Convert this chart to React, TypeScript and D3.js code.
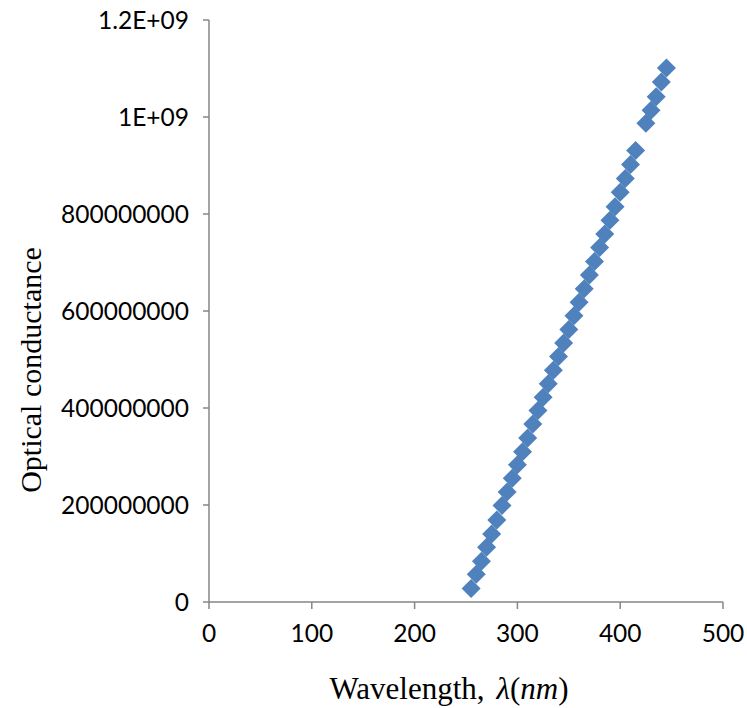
import React from "react";
import * as d3 from "d3";

const wavelengths = [255, 260, 265, 270, 275, 280, 285, 290, 295, 300, 305, 310, 315, 320, 325, 330, 335, 340, 345, 350, 355, 360, 365, 370, 375, 380, 385, 390, 395, 400, 405, 410, 415, 425, 430, 435, 440, 445];
const conductance = [28e6, 57e6, 84e6, 113e6, 140e6, 169e6, 199e6, 227e6, 255e6, 283e6, 310e6, 338e6, 367e6, 395e6, 422e6, 450e6, 478e6, 506e6, 534e6, 562e6, 590e6, 618e6, 646e6, 674e6, 702e6, 731e6, 759e6, 787e6, 815e6, 845e6, 873e6, 902e6, 931e6, 987e6, 1014e6, 1042e6, 1072e6, 1101e6];
const xTicks = [0, 100, 200, 300, 400, 500];
const yTicks = [0, 200000000, 400000000, 600000000, 800000000, 1000000000, 1200000000];
const yTickLabels = ["0", "200000000", "400000000", "600000000", "800000000", "1E+09", "1.2E+09"];

const W = 747;
const H = 708;
const left = 209;
const right = 723;
const top = 20;
const bottom = 602;
const axisColor = "#868686";
const markerColor = "#4F81BD";
const tickFont = "Lato, 'Open Sans', sans-serif";
const titleFont = "'Liberation Serif', 'Times New Roman', serif";

export default function App() {
  const x = d3.scaleLinear().domain([0, 500]).range([left, right]);
  const y = d3.scaleLinear().domain([0, 1.2e9]).range([bottom, top]);
  const diamond = d3.symbol().type(d3.symbolDiamond2 ?? d3.symbolDiamond).size(230)();
  const data = wavelengths.map((w, i) => ({ w, c: conductance[i] }));
  return (
    <svg width={W} height={H} style={{ position: "absolute", left: 0, top: 0, background: "#fff" }}>
      <rect x={0} y={0} width={W} height={H} fill="#fff" />
      <line x1={left} x2={left} y1={top} y2={bottom} stroke={axisColor} strokeWidth={1.5} />
      <line x1={left} x2={right} y1={bottom} y2={bottom} stroke={axisColor} strokeWidth={1.5} />
      {yTicks.map((t, i) => (
        <g key={"y" + t}>
          <line x1={left - 6} x2={left} y1={y(t)} y2={y(t)} stroke={axisColor} strokeWidth={1.5} />
          <text x={189} y={y(t)} dy="0.35em" textAnchor="end" fontFamily={tickFont} fontSize={24.5} fill="#000">
            {yTickLabels[i]}
          </text>
        </g>
      ))}
      {xTicks.map((t) => (
        <g key={"x" + t}>
          <line x1={x(t)} x2={x(t)} y1={bottom} y2={bottom + 7} stroke={axisColor} strokeWidth={1.5} />
          <text x={x(t)} y={633} dy="0.35em" textAnchor="middle" fontFamily={tickFont} fontSize={24.5} fill="#000">
            {t}
          </text>
        </g>
      ))}
      {data.map((d, i) => (
        <path key={i} d={diamond as string} transform={`translate(${x(d.w)},${y(d.c)})`} fill={markerColor} />
      ))}
      <text x={449} y={688} dy="0.35em" textAnchor="middle" fontFamily={titleFont} fontSize={31} fill="#000">
        Wavelength,
        <tspan dx={12} fontStyle="italic">λ</tspan>(<tspan fontStyle="italic">nm</tspan>)
      </text>
      <text transform="translate(30,370) rotate(-90)" dy="0.35em" textAnchor="middle" fontFamily={titleFont} fontSize={30} fill="#000">
        Optical conductance
      </text>
    </svg>
  );
}
